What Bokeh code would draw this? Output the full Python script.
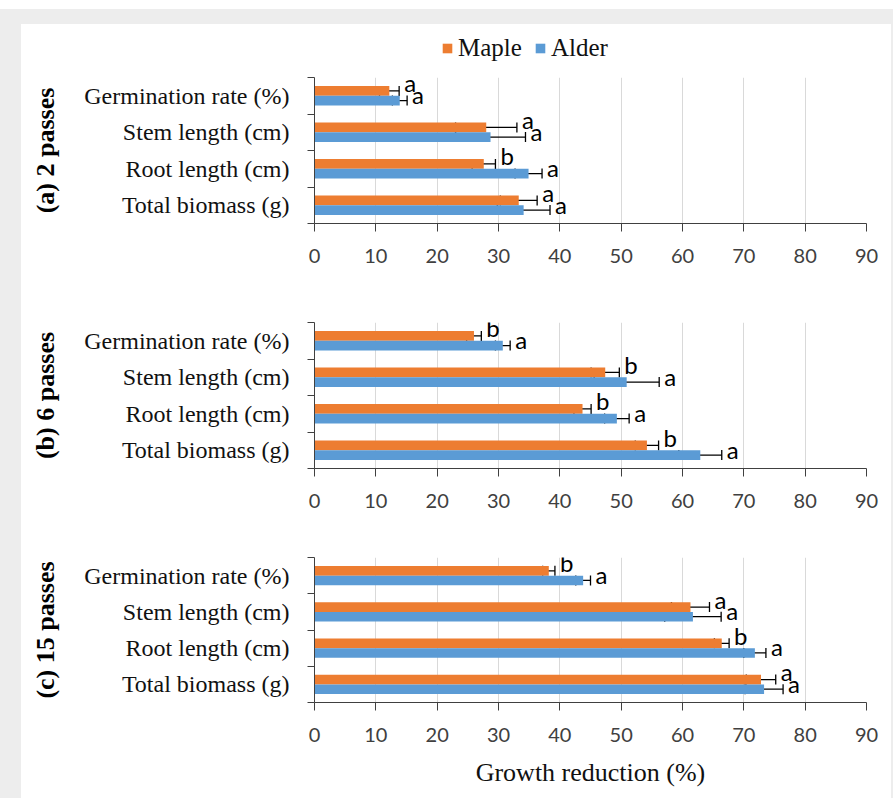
from bokeh.plotting import figure
from bokeh.models import (Range1d, FixedTicker, ColumnDataSource, Whisker, TeeHead,
                          Legend, LegendItem)
from bokeh.layouts import column
from bokeh.embed import file_html
from bokeh.resources import INLINE
from bokeh.core.properties import value

# ---- data -------------------------------------------------------------
categories = ["Germination rate (%)", "Stem length (cm)", "Root length (cm)", "Total biomass (g)"]
species = ["Maple", "Alder"]
panel_titles = ["(a) 2 passes", "(b) 6 passes", "(c) 15 passes"]
x_ticks = [0, 10, 20, 30, 40, 50, 60, 70, 80, 90]
x_title = "Growth reduction (%)"

# 2 passes
maple_2 = [12.2, 28.0, 27.6, 33.3]
maple_2_err = [1.6, 5.0, 1.9, 3.0]
maple_2_sig = ["a", "a", "b", "a"]
alder_2 = [13.9, 28.7, 34.9, 34.1]
alder_2_err = [1.2, 5.7, 2.2, 4.3]
alder_2_sig = ["a", "a", "a", "a"]

# 6 passes
maple_6 = [26.0, 47.4, 43.7, 54.2]
maple_6_err = [1.2, 2.3, 1.4, 1.9]
maple_6_sig = ["b", "b", "b", "b"]
alder_6 = [30.7, 50.9, 49.3, 62.9]
alder_6_err = [1.2, 5.3, 2.0, 3.5]
alder_6_sig = ["a", "a", "a", "a"]

# 15 passes
maple_15 = [38.2, 61.3, 66.4, 72.8]
maple_15_err = [1.0, 3.1, 1.2, 2.4]
maple_15_sig = ["b", "a", "b", "a"]
alder_15 = [43.8, 61.7, 71.8, 73.3]
alder_15_err = [1.2, 4.6, 1.8, 3.1]
alder_15_sig = ["a", "a", "a", "a"]

# ---- styling ----------------------------------------------------------
MAPLE = "#ED7D31"
ALDER = "#5B9BD5"
SERIF = "Liberation Serif"
SANS = "Lato"
AXIS = "#404040"
BAR_H = 0.264
SHIFT = 0.132


def make_panel(title, maple, maple_err, maple_sig, alder, alder_err, alder_sig,
               height, top, bottom, with_xlabel=False):
    n = len(categories)
    ypos = [n - 1 - i for i in range(n)]

    p = figure(width=870, height=height, x_range=Range1d(0, 90),
               y_range=Range1d(-0.5, n - 0.5), output_backend="svg",
               toolbar_location=None, min_border_left=293, min_border_right=25,
               min_border_top=top, min_border_bottom=bottom)
    p.outline_line_color = None
    p.background_fill_color = "white"
    p.border_fill_color = "white"

    for vals, errs, sig, color, shift, yoff in (
            (maple, maple_err, maple_sig, MAPLE, SHIFT, -8),
            (alder, alder_err, alder_sig, ALDER, -SHIFT, -6)):
        src = ColumnDataSource(dict(
            y=[v + shift for v in ypos], val=vals,
            lo=[v - e for v, e in zip(vals, errs)],
            hi=[v + e for v, e in zip(vals, errs)], sig=sig))
        p.hbar(y="y", left=0, right="val", height=BAR_H, source=src,
               fill_color=color, line_color=None)
        p.add_layout(Whisker(source=src, base="y", lower="lo", upper="hi",
                             dimension="width", line_color="black", line_width=1.3,
                             upper_head=TeeHead(size=10, line_color="black", line_width=1.3),
                             lower_head=TeeHead(size=10, line_color="black", line_width=1.3)))
        p.text(x="hi", y="y", text="sig", source=src, x_offset=5, y_offset=yoff,
               text_font=value(SANS), text_font_size="24px", text_color="black",
               text_align="left", text_baseline="alphabetic")

    # x axis
    xt = FixedTicker(ticks=x_ticks)
    p.xaxis.ticker = xt
    p.xgrid.ticker = xt
    p.xgrid.grid_line_color = "#D9D9D9"
    p.xgrid.grid_line_width = 1
    p.ygrid.visible = False
    p.xaxis.axis_line_color = AXIS
    p.xaxis.major_tick_line_color = AXIS
    p.xaxis.major_tick_out = 8
    p.xaxis.major_tick_in = 0
    p.xaxis.minor_tick_line_color = None
    p.xaxis.major_label_text_font = SANS
    p.xaxis.major_label_text_font_size = "20px"
    p.xaxis.major_label_text_color = AXIS
    p.xaxis.major_label_standoff = 17

    # y axis: labels at category centres, tick marks between categories
    p.yaxis.ticker = FixedTicker(ticks=ypos, minor_ticks=[k - 0.5 for k in range(n + 1)])
    p.yaxis.major_label_overrides = {y: c for y, c in zip(ypos, categories)}
    p.yaxis.major_tick_line_color = None
    p.yaxis.major_tick_out = 0
    p.yaxis.major_tick_in = 0
    p.yaxis.minor_tick_line_color = AXIS
    p.yaxis.minor_tick_out = 7
    p.yaxis.minor_tick_in = 0
    p.yaxis.axis_line_color = AXIS
    p.yaxis.major_label_text_font = SERIF
    p.yaxis.major_label_text_font_size = "24px"
    p.yaxis.major_label_text_color = "#111111"
    p.yaxis.major_label_standoff = 18
    p.yaxis.axis_label = title
    p.yaxis.axis_label_text_font = SERIF
    p.yaxis.axis_label_text_font_style = "bold"
    p.yaxis.axis_label_text_font_size = "26px"
    p.yaxis.axis_label_text_color = "black"
    p.yaxis.axis_label_standoff = 21

    if with_xlabel:
        p.xaxis.axis_label = x_title
        p.xaxis.axis_label_text_font = SERIF
        p.xaxis.axis_label_text_font_style = "normal"
        p.xaxis.axis_label_text_font_size = "26px"
        p.xaxis.axis_label_text_color = "#111111"
        p.xaxis.axis_label_standoff = 13
    return p


# header strip carrying the shared legend (its frame lines up with the panels below)
head = figure(width=870, height=53, x_range=Range1d(0, 90), y_range=Range1d(-0.5, 3.5),
              output_backend="svg", toolbar_location=None,
              min_border_left=0, min_border_right=0, min_border_top=0, min_border_bottom=0)
head.axis.visible = False
head.grid.visible = False
head.outline_line_color = None
head.border_fill_color = "white"
key_maple = head.hbar(y=[-5], left=0, right=[maple_2[0]], height=BAR_H,
                      fill_color=MAPLE, line_color=None)
key_alder = head.hbar(y=[-5], left=0, right=[alder_2[0]], height=BAR_H,
                      fill_color=ALDER, line_color=None)
legend = Legend(items=[LegendItem(label=species[0], renderers=[key_maple]),
                       LegendItem(label=species[1], renderers=[key_alder])],
                orientation="horizontal", location=(127, 15),
                padding=0, margin=0, spacing=12, label_standoff=5,
                glyph_width=12, glyph_height=12,
                border_line_color=None, background_fill_alpha=0,
                label_text_font=SERIF, label_text_font_size="25px",
                label_text_color="#111111")
head.add_layout(legend)

p1 = make_panel(panel_titles[0], maple_2, maple_2_err, maple_2_sig,
                alder_2, alder_2_err, alder_2_sig, height=203, top=0, bottom=57)
p2 = make_panel(panel_titles[1], maple_6, maple_6_err, maple_6_sig,
                alder_6, alder_6_err, alder_6_sig, height=240, top=42, bottom=52)
p3 = make_panel(panel_titles[2], maple_15, maple_15_err, maple_15_sig,
                alder_15, alder_15_err, alder_15_sig, height=278, top=37, bottom=96,
                with_xlabel=True)

root = column(head, p1, p2, p3, spacing=0,
              styles={"background-color": "#FFFFFF",
                      "margin-top": "9px",
                      "border-top": "15px solid #EDEDED",
                      "border-left": "21px solid #EDEDED",
                      "border-right": "2px solid #EDEDED"})

with open("out.html", "w") as f:
    f.write(file_html(root, INLINE))
